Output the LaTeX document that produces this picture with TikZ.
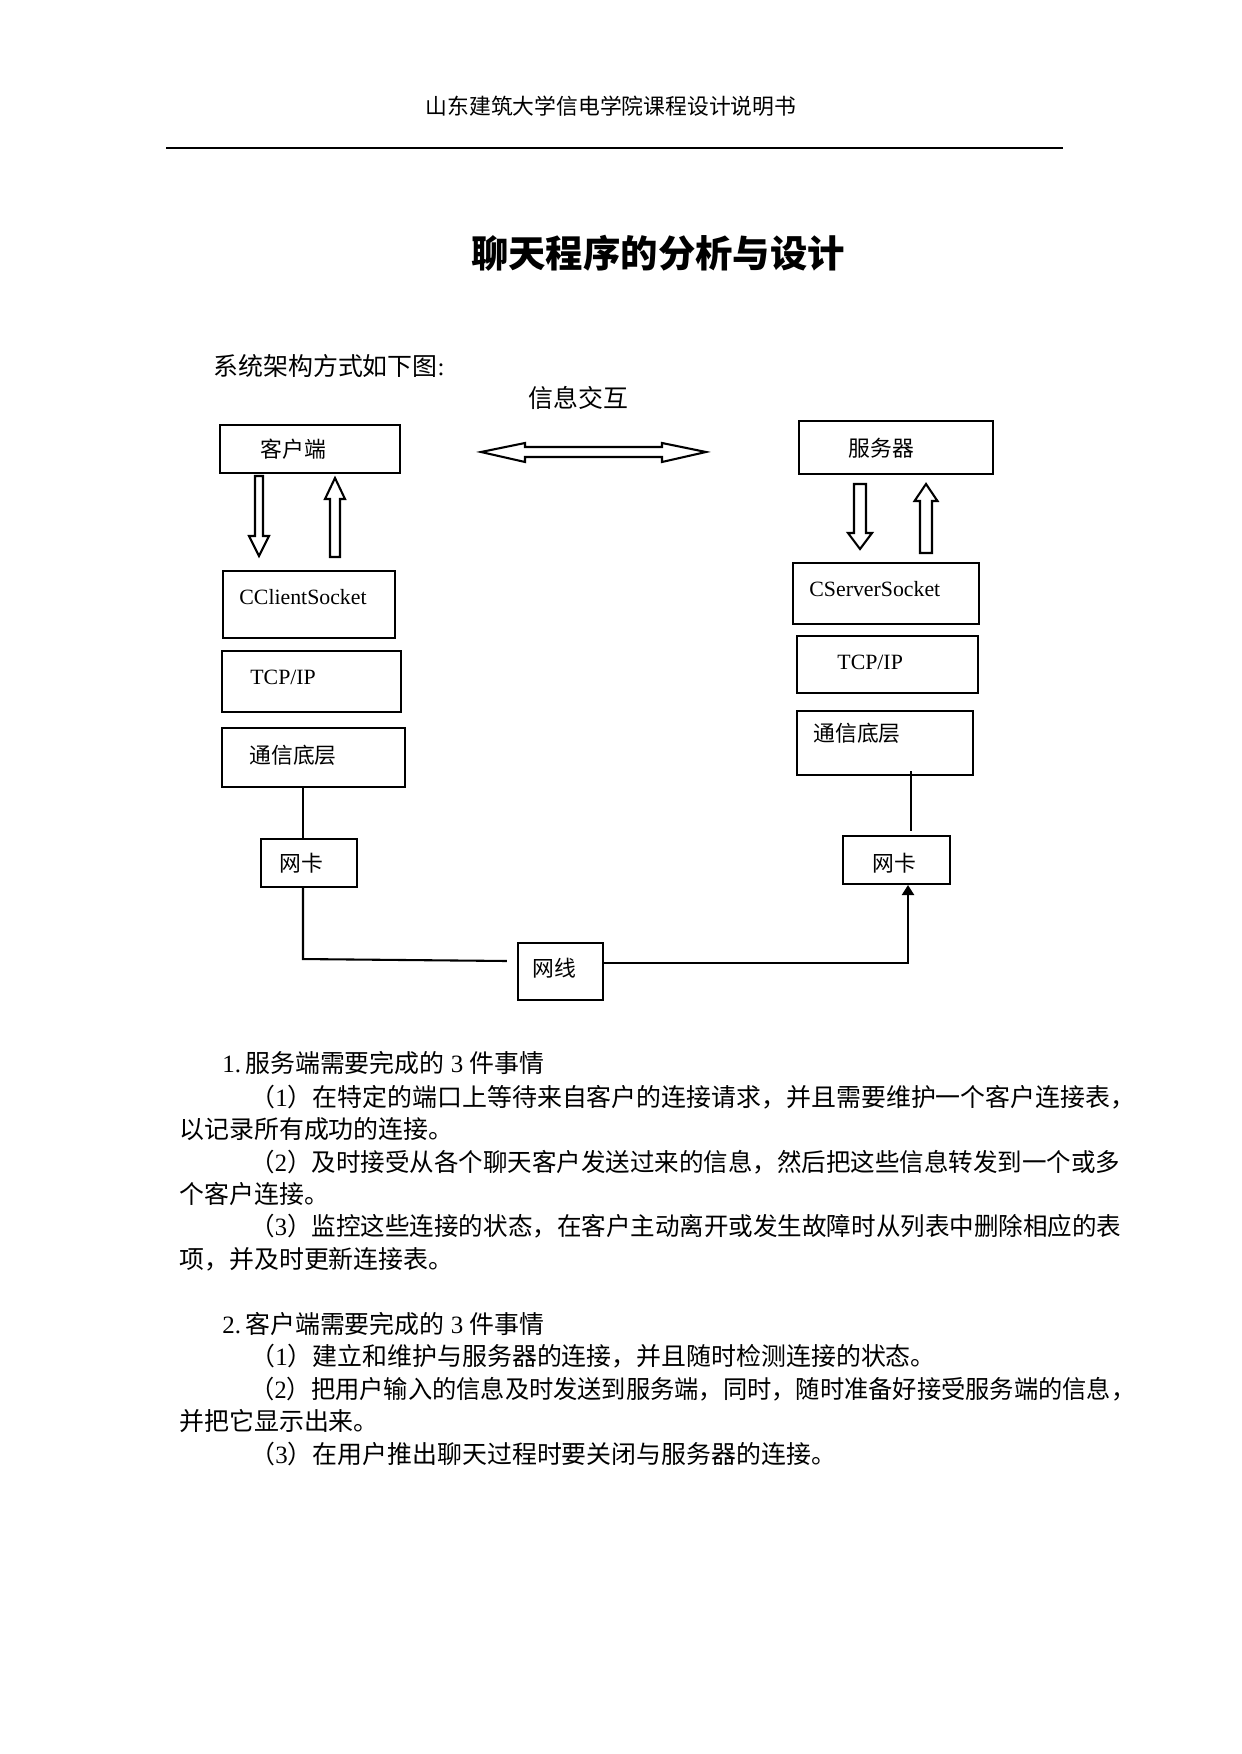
\documentclass[tikz,border=0pt]{standalone}
\usepackage{fontspec}
\usepackage{graphicx}
\setmainfont{Liberation Serif}
\newfontfamily\cjk{Noto Sans CJK SC}
\usetikzlibrary{arrows.meta,calc}
\newlength\pxu
\setlength\pxu{0.16922mm}
\newcommand\jline[2]{\resizebox{#1\pxu}{\height}{#2}}
\newcommand\zh[1]{{\cjk #1}}
\newcommand\blockv[6]{%
  \draw[blk] (#1-#5,#2) -- (#1+#5,#2) -- (#1+#5,#3) -- (#1+#6,#3) -- (#1,#4)
    -- (#1-#6,#3) -- (#1-#5,#3) -- cycle;}
\begin{document}
\begin{tikzpicture}[x=0.16922mm,y=-0.16922mm,
  box/.style={draw,line width=1pt,rectangle,inner sep=0pt},
  bsz/.style 2 args={minimum width=#1\pxu,minimum height=#2\pxu},
  conn/.style={line width=1pt},
  blk/.style={draw,line width=1pt,fill=white,line join=miter},
  lbl/.style={inner sep=0pt,anchor=west,font=\fontsize{10.5pt}{12pt}\selectfont},
  body/.style={inner sep=0pt,anchor=west,font=\fontsize{12pt}{14pt}\selectfont},
]
\useasboundingbox (0,0) rectangle (1241,1754);
\fill[white] (0,0) rectangle (1241,1754);

% header
\node[inner sep=0pt,font=\cjk\fontsize{10.5pt}{12pt}\selectfont] (hdr) at (611,106) {山东建筑大学信电学院课程设计说明书};
\draw[line width=0.6pt] (166,148) -- (1063,148);
\node[inner sep=0pt,font=\cjk\bfseries\fontsize{18pt}{20pt}\selectfont] (title) at (658,253) {聊天程序的分析与设计};

\node[body] (intro) at (213,366) {\zh{系统架构方式如下图}:};
\node[body] (xx) at (528,398) {\zh{信息交互}};

% client side boxes
\node[box,bsz={180}{48}] (kh) at (310,449) {};
\node[lbl] (khT) at (260,449) {\zh{客户端}};
\node[box,bsz={172}{67}] (cc) at (309,604.5) {};
\node[lbl] (ccT) at (239,597) {CClientSocket};
\node[box,bsz={179}{61}] (tl) at (311.5,681.5) {};
\node[lbl] (tlT) at (250,677) {TCP/IP};
\node[box,bsz={183}{59}] (dl) at (313.5,757.5) {};
\node[lbl] (dlT) at (249,755) {\zh{通信底层}};
\node[box,bsz={96}{48}] (nl) at (309,863) {};
\node[lbl] (nlT) at (279,863) {\zh{网卡}};

% cable
\node[box,bsz={85}{57}] (wx) at (560.5,971.5) {};
\node[lbl] (wxT) at (532,968) {\zh{网线}};

% server side boxes
\node[box,bsz={194}{53}] (fw) at (896,447.5) {};
\node[lbl] (fwT) at (848,448) {\zh{服务器}};
\node[box,bsz={186}{61}] (cs) at (886,593.5) {};
\node[lbl] (csT) at (809,589) {CServerSocket};
\node[box,bsz={181}{57}] (tr) at (887.5,664.5) {};
\node[lbl] (trT) at (837,662) {TCP/IP};
\node[box,bsz={176}{64}] (dr) at (885,743) {};
\node[lbl] (drT) at (813,733) {\zh{通信底层}};
\node[box,bsz={107}{48}] (nr) at (896.5,860) {};
\node[lbl] (nrT) at (872,863) {\zh{网卡}};

% hollow block arrows
\blockv{259}{476}{536}{556}{4}{10}
\blockv{335}{557}{499}{478}{5}{10}
\blockv{860}{484}{533}{549}{6}{12}
\blockv{926}{553}{501}{484}{6}{11.5}
\draw[blk] (481,452) -- (525,443) -- (525,447) -- (662,447) -- (662,443) -- (706,452)
  -- (662,462) -- (662,457) -- (525,457) -- (525,462) -- cycle;

% connectors
\draw[conn] ($(dl.south)+(-10.5,0)$) -- ($(nl.north)+(-6,0)$);
\draw[conn] ($(nl.south)+(-6,0)$) -- ++(0,71) -- ($(wx.west)+(-10,-10.5)$);
\draw[conn,-{Triangle[width=5.8pt,length=4.8pt]}] ($(wx.east)+(0,-8.5)$) -| ($(nr.south)+(11.5,0)$);
\draw[conn] ($(dr.south)+(26,-5)$) -- ($(nr.north)+(14.5,-4)$);

% body text
\node[body] (s1) at (222,1063) {1.\,\zh{服务端需要完成的} 3 \zh{件事情}};
\node[body] (s1a) at (250,1097) {\jline{885}{\zh{（}1\zh{）在特定的端口上等待来自客户的连接请求，并且需要维护一个客户连接表，}}};
\node[body] (s1b) at (179,1129) {\zh{以记录所有成功的连接。}};
\node[body] (s1c) at (250,1162) {\jline{870}{\zh{（}2\zh{）及时接受从各个聊天客户发送过来的信息，然后把这些信息转发到一个或多}}};
\node[body] (s1d) at (179,1194) {\zh{个客户连接。}};
\node[body] (s1e) at (250,1226) {\jline{871}{\zh{（}3\zh{）监控这些连接的状态，在客户主动离开或发生故障时从列表中删除相应的表}}};
\node[body] (s1f) at (179,1259) {\zh{项，并及时更新连接表。}};

\node[body] (s2) at (222,1324) {2.\,\zh{客户端需要完成的} 3 \zh{件事情}};
\node[body] (s2a) at (250,1356) {\zh{（}1\zh{）建立和维护与服务器的连接，并且随时检测连接的状态。}};
\node[body] (s2b) at (250,1389) {\jline{885}{\zh{（}2\zh{）把用户输入的信息及时发送到服务端，同时，随时准备好接受服务端的信息，}}};
\node[body] (s2c) at (179,1421) {\zh{并把它显示出来。}};
\node[body] (s2d) at (250,1454) {\zh{（}3\zh{）在用户推出聊天过程时要关闭与服务器的连接。}};
\end{tikzpicture}
\end{document}
